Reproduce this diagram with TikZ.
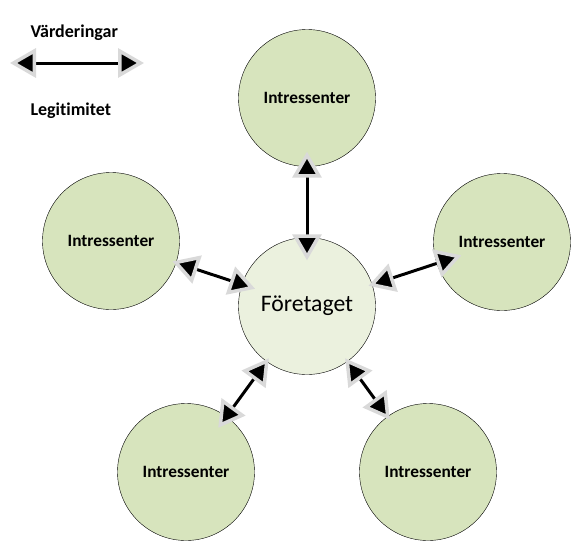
\documentclass[tikz,border=0pt]{standalone}
\usepackage{fontspec}
\setmainfont[Ligatures=NoCommon]{Carlito}
\usetikzlibrary{arrows.meta, positioning}
\definecolor{outerfill}{HTML}{D7E4BD}
\definecolor{innerfill}{HTML}{EBF1DE}
\tikzset{
    party/.style={circle, draw=black, thin, fill=outerfill, minimum size=137pt, inner sep=0pt,
        font=\bfseries\fontsize{17.3}{20}\selectfont}, % the surrounding circles
    firm/.style={party, fill=innerfill, font=\fontsize{23.7}{28}\selectfont}, % the circle in the middle
    link/.style={% arrows between the circles, black heads with a light rim
        {Triangle[length=26pt, width=29pt, color=gray!30, fill=black, line width=3.5pt]}-{Triangle[length=26pt, width=29pt, color=gray!30, fill=black, line width=3.5pt]},
        line width=3pt},
    legend/.style={anchor=base west, font=\bfseries\fontsize{18}{21}\selectfont},
}
\begin{document}
\begin{tikzpicture}[x=1pt, y=-1pt]
    \useasboundingbox (0,0) rectangle (586,555);

    % legend
    \node[legend] (values) at (27,37) {Värderingar};
    \node[legend] (legit) at (27,115) {Legitimitet};
    \coordinate (legL) at (10,63);
    \coordinate (legR) at (144,63);
    \draw[link] (legL) -- (legR);

    % circles
    \node[firm] (firm) at (307,306) {Företaget};
    \node[party] (north) at (307,98) {Intressenter};
    \node[party] (west) at (111,241) {Intressenter};
    \node[party] (east) at (502,242) {Intressenter};
    \node[party] (southwest) at (186,472) {Intressenter};
    \node[party] (southeast) at (428,472) {Intressenter};

    \path[link]
        (north) edge[shorten <=-15pt, shorten >=-23pt] (firm)
        (west) edge[shorten <=-4pt, shorten >=-14pt] (firm)
        (firm) edge[shorten <=-4pt, shorten >=-26pt] (east)
        (firm) edge[shorten <=-4pt, shorten >=-14pt] (southwest)
        (firm) edge[shorten <=-4pt, shorten >=-4pt] (southeast);
\end{tikzpicture}
\end{document}
